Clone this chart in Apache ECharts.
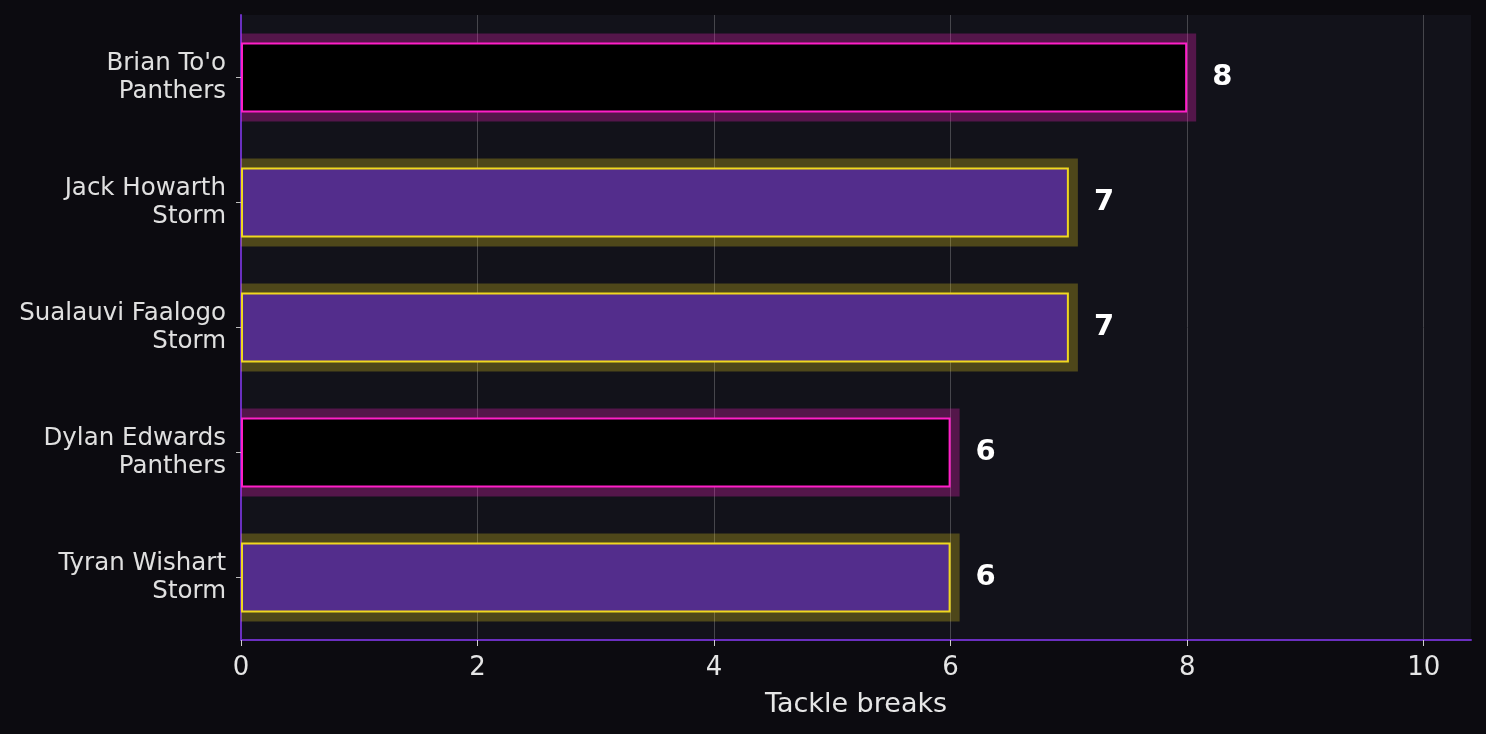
<!DOCTYPE html>
<html>
<head>
<meta charset="utf-8">
<script src="https://cdn.jsdelivr.net/npm/echarts@6/dist/echarts.min.js"></script>
<style>
  html, body { margin: 0; padding: 0; background: #0c0b10; }
  #chart { width: 1486px; height: 734px; }
</style>
</head>
<body>
<div id="chart"></div>
<script>
// data, top to bottom
const players = ["Brian To'o", 'Jack Howarth', 'Sualauvi Faalogo', 'Dylan Edwards', 'Tyran Wishart'];
const teams = ['Panthers', 'Storm', 'Storm', 'Panthers', 'Storm'];
const tackleBreaks = [8, 7, 7, 6, 6];
const xTicks = [0, 2, 4, 6, 8, 10];

const teamStyle = {
  Panthers: { fill: '#000000', edge: '#ff1fc8', glow: 'rgba(255,31,200,0.28)' },
  Storm: { fill: '#532d8c', edge: '#f0d81f', glow: 'rgba(240,216,31,0.27)' }
};

const labels = players.map((p, i) => p + '\n' + teams[i]);

const chart = echarts.init(document.getElementById('chart'), null, { renderer: 'canvas' });

chart.setOption({
  backgroundColor: '#0c0b10',
  animation: false,
  grid: {
    left: 241, right: 15, top: 15, bottom: 94,
    show: true, backgroundColor: '#12121a', borderWidth: 0
  },
  xAxis: {
    type: 'value',
    min: 0, max: 10.4, interval: 2,
    name: 'Tackle breaks',
    nameLocation: 'middle',
    nameGap: 51,
    nameTextStyle: { color: '#e6e6e6', fontSize: 27, fontFamily: 'DejaVu Sans' },
    axisLine: { show: true, lineStyle: { color: '#6a2fc0', width: 2 } },
    axisTick: { show: true, length: 6, customValues: xTicks, lineStyle: { color: '#cfcfcf', width: 1 } },
    axisLabel: {
      color: '#e6e6e6', fontSize: 26, fontFamily: 'DejaVu Sans', margin: 15,
      customValues: xTicks
    },
    splitLine: { show: true, showMaxLine: true, showMinLine: false, lineStyle: { color: '#46464c', width: 1 } }
  },
  yAxis: {
    type: 'category',
    data: labels,
    inverse: true,
    axisLine: { show: true, lineStyle: { color: '#6a2fc0', width: 2 } },
    axisTick: { show: true, length: 5, alignWithLabel: true, lineStyle: { color: '#bdbdbd' } },
    axisLabel: {
      color: '#e0e0e0', fontSize: 24.5, fontFamily: 'DejaVu Sans', lineHeight: 28,
      align: 'right', margin: 15
    }
  },
  series: [
    {
      type: 'custom',
      z: 1,
      renderItem: function (params, api) {
        const i = api.value(0);
        const v = api.value(1);
        const start = api.coord([0, i]);
        const end = api.coord([v, i]);
        const h = 88;
        const st = teamStyle[teams[i]];
        return {
          type: 'rect',
          shape: { x: start[0], y: start[1] - h / 2, width: end[0] - start[0] + 9, height: h },
          style: { fill: st.glow }
        };
      },
      encode: { x: 1, y: 0 },
      data: tackleBreaks.map((v, i) => [i, v])
    },
    {
      type: 'bar',
      z: 2,
      barWidth: 70,
      data: tackleBreaks.map((v, i) => ({
        value: v,
        itemStyle: {
          color: teamStyle[teams[i]].fill,
          borderColor: teamStyle[teams[i]].edge,
          borderWidth: 2
        }
      })),
      label: {
        show: true, position: 'right', distance: 25,
        color: '#ffffff', fontSize: 29, fontWeight: 'bold', fontFamily: 'DejaVu Sans'
      }
    }
  ]
});
</script>
</body>
</html>
